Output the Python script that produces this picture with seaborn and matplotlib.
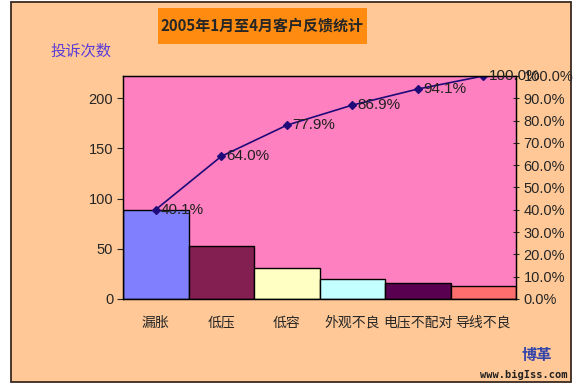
import matplotlib
matplotlib.use("Agg")
import matplotlib.pyplot as plt
import matplotlib.patches as mpatches
from matplotlib.ticker import PercentFormatter
import pandas as pd
import seaborn as sns

# data
categories = ["漏胀", "低压", "低容", "外观不良", "电压不配对", "导线不良"]
counts = [89, 53, 31, 20, 16, 13]
bar_colors = ["#8080FF", "#841F52", "#FFFFC4", "#C4FFFF", "#5A0050", "#FF6E6E"]
left_ticks = [0, 50, 100, 150, 200]
right_ticks = [0.0, 0.1, 0.2, 0.3, 0.4, 0.5, 0.6, 0.7, 0.8, 0.9, 1.0]

total = sum(counts)
cum = []
run = 0
for c in counts:
    run += c
    cum.append(run / total)

df = pd.DataFrame({"cat": categories, "count": counts, "cum": cum})

sns.set_style("white")
plt.rcParams["font.family"] = ["Liberation Sans", "Noto Sans CJK SC", "DejaVu Sans"]

fig = plt.figure(figsize=(5.8, 3.86), dpi=100, facecolor="white")
# peach chart area with a dark frame
fig.patches.append(mpatches.Rectangle((11 / 580, 1 - 382 / 386), 560 / 580, 380 / 386,
                                      transform=fig.transFigure, facecolor="#FFC896",
                                      edgecolor="#3a2a20", linewidth=1.3, zorder=-10))
# orange title box
fig.patches.append(mpatches.Rectangle((158 / 580, 1 - 44 / 386), 209 / 580, 36 / 386,
                                      transform=fig.transFigure, facecolor="#FF8C10",
                                      edgecolor="none", zorder=-5))

ax = fig.add_axes([123 / 580, 1 - 299 / 386, 393 / 580, 223 / 386])
ax.set_facecolor("#FF80C0")

sns.barplot(data=df, x="cat", y="count", hue="cat", palette=bar_colors, width=1.0,
            saturation=1, edgecolor="black", linewidth=1.0, legend=False, ax=ax, zorder=2)
ax.set_ylim(0, total)
ax.set_yticks(left_ticks)
ax.set_xlabel("")
ax.set_ylabel("")
ax.tick_params(axis="y", direction="out", length=4, width=0.8, labelsize=10.5, pad=3)
ax.tick_params(axis="x", length=0, labelsize=10, pad=12)
for lab in ax.get_xticklabels():
    lab.set_fontfamily(["Noto Sans CJK SC", "DejaVu Sans"])
for s in ax.spines.values():
    s.set_color("black")
    s.set_linewidth(0.9)

ax2 = ax.twinx()
sns.pointplot(data=df, x="cat", y="cum", color="#1E0A78", markers="D", markersize=4,
              linewidth=1.2, ax=ax2)
ax2.set_ylim(0, 1)
ax2.set_yticks(right_ticks)
ax2.yaxis.set_major_formatter(PercentFormatter(1.0, decimals=1))
ax2.set_ylabel("")
ax2.set_xlabel("")
ax2.tick_params(axis="y", direction="inout", length=5, width=0.8, labelsize=10.5, pad=3)
for s in ax2.spines.values():
    s.set_color("black")
    s.set_linewidth(0.9)
ax2.set_xlim(-0.5, len(categories) - 0.5)

for i, v in enumerate(cum):
    ax2.text(i + 0.08, v, f"{v:.1%}", ha="left", va="center", fontsize=11,
             color="#202020", clip_on=False)

# title and axis caption
fig.text(262 / 580, 1 - 26 / 386, "2005年1月至4月客户反馈统计", ha="center", va="center",
         fontsize=10.8, fontweight="bold", family=["Noto Sans CJK SC", "DejaVu Sans"])
fig.text(50 / 580, 1 - 51 / 386, "投诉次数", ha="left", va="center", fontsize=11,
         color="#5B3CD8", family=["Noto Sans CJK SC", "DejaVu Sans"])

# watermark
fig.text(552 / 580, 1 - 355 / 386, "博革", ha="right", va="center", fontsize=11,
         fontweight="bold", color="#3344AA", family=["Noto Sans CJK SC", "DejaVu Sans"])
fig.text(568 / 580, 1 - 375 / 386, "www.bigIss.com", ha="right", va="center", fontsize=7.5,
         fontweight="bold", family="DejaVu Sans Mono", color="#202020")

fig.savefig("out.png", dpi=100, facecolor="white")
